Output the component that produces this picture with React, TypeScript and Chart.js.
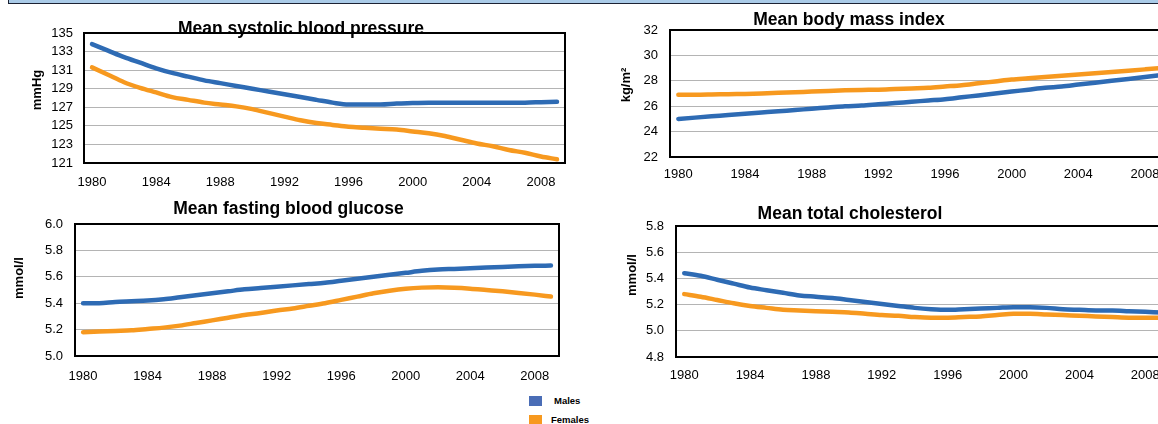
import React, { useEffect, useRef } from "react";
import { Chart, registerables } from "chart.js";

Chart.register(...registerables);

const years = [
  "1980", "1981", "1982", "1983", "1984", "1985", "1986", "1987", "1988", "1989",
  "1990", "1991", "1992", "1993", "1994", "1995", "1996", "1997", "1998", "1999",
  "2000", "2001", "2002", "2003", "2004", "2005", "2006", "2007", "2008", "2009",
];

const sbpMales = [
  133.8, 133.1, 132.4, 131.8, 131.2, 130.7, 130.3, 129.9, 129.6, 129.3,
  129.0, 128.7, 128.4, 128.1, 127.8, 127.5, 127.3, 127.3, 127.3, 127.4,
  127.45, 127.5, 127.5, 127.5, 127.5, 127.5, 127.5, 127.5, 127.55, 127.6,
];
const sbpFemales = [
  131.3, 130.5, 129.7, 129.1, 128.6, 128.1, 127.8, 127.5, 127.3, 127.1,
  126.8, 126.4, 126.0, 125.6, 125.3, 125.1, 124.9, 124.8, 124.7, 124.6,
  124.4, 124.2, 123.9, 123.5, 123.1, 122.8, 122.4, 122.1, 121.7, 121.4,
];

const bmiMales = [
  25.0, 25.1, 25.2, 25.3, 25.4, 25.5, 25.6, 25.7, 25.8, 25.9,
  26.0, 26.05, 26.15, 26.25, 26.35, 26.45, 26.55, 26.7, 26.85, 27.0,
  27.15, 27.3, 27.45, 27.55, 27.7, 27.85, 28.0, 28.15, 28.3, 28.45,
];
const bmiFemales = [
  26.9, 26.9, 26.92, 26.95, 26.97, 27.0, 27.05, 27.1, 27.15, 27.2,
  27.25, 27.28, 27.3, 27.35, 27.4, 27.45, 27.55, 27.65, 27.8, 27.95,
  28.1, 28.2, 28.3, 28.4, 28.5, 28.6, 28.7, 28.8, 28.9, 29.0,
];

const glucoseMales = [
  5.4, 5.4, 5.41, 5.415, 5.42, 5.43, 5.445, 5.46, 5.475, 5.49,
  5.505, 5.515, 5.525, 5.535, 5.545, 5.555, 5.57, 5.585, 5.6, 5.615,
  5.63, 5.645, 5.655, 5.66, 5.665, 5.67, 5.675, 5.68, 5.683, 5.685,
];
const glucoseFemales = [
  5.18, 5.185, 5.19, 5.195, 5.205, 5.215, 5.23, 5.25, 5.27, 5.29,
  5.31, 5.325, 5.345, 5.36, 5.38, 5.4, 5.425, 5.45, 5.475, 5.495,
  5.51, 5.518, 5.52, 5.517, 5.51, 5.5, 5.49, 5.478, 5.465, 5.45,
];

const cholMales = [
  5.44, 5.42, 5.39, 5.36, 5.33, 5.31, 5.29, 5.27, 5.26, 5.25,
  5.235, 5.22, 5.205, 5.19, 5.175, 5.165, 5.16, 5.165, 5.17, 5.175,
  5.18, 5.18, 5.175, 5.165, 5.16, 5.155, 5.155, 5.15, 5.145, 5.14,
];
const cholFemales = [
  5.28, 5.26, 5.235, 5.21, 5.19, 5.175, 5.16, 5.155, 5.15, 5.145,
  5.14, 5.13, 5.12, 5.115, 5.105, 5.1, 5.1, 5.105, 5.11, 5.12,
  5.13, 5.13, 5.125, 5.12, 5.115, 5.11, 5.105, 5.1, 5.1, 5.1,
];

const seriesNames = ["Males", "Females"];
const seriesColors = ["#2e6bb4", "#f7991f"];
const legendColors = ["#4a6db6", "#f7991f"];

const FONT = "'Liberation Sans', Arial, Helvetica, sans-serif";

type Panel = {
  title: string;
  yTitle: string;
  males: number[];
  females: number[];
  min: number;
  max: number;
  step: number;
  decimals: number;
  left: number;
  top: number;
  width: number;
  height: number;
  padLeft: number;
  axisW: number;
  padRight: number;
  yTitleX: number;
  yTitleY: number;
  titlePadTop: number;
  titlePadBottom: number;
  yTickPad: number;
  xTickPad: number;
};

const panels: Panel[] = [
  {
    title: "Mean systolic blood pressure", yTitle: "mmHg",
    males: sbpMales, females: sbpFemales, min: 121, max: 135, step: 2, decimals: 0,
    left: 0, top: 0, width: 600, height: 193, padLeft: 37, axisW: 47, padRight: 35,
    yTitleX: 37, yTitleY: 90, titlePadTop: 19, titlePadBottom: -7, yTickPad: 11, xTickPad: 12,
  },
  {
    title: "Mean body mass index", yTitle: "kg/m\u00b2",
    males: bmiMales, females: bmiFemales, min: 22, max: 32, step: 2, decimals: 0,
    left: 520, top: 0, width: 658, height: 187, padLeft: 8, axisW: 142, padRight: 8,
    yTitleX: 106.5, yTitleY: 85, titlePadTop: 9.5, titlePadBottom: -0.5, yTickPad: 12, xTickPad: 10,
  },
  {
    title: "Mean fasting blood glucose", yTitle: "mmol/l",
    males: glucoseMales, females: glucoseFemales, min: 5.0, max: 6.0, step: 0.2, decimals: 1,
    left: 0, top: 190, width: 578, height: 196, padLeft: 18, axisW: 57, padRight: 19,
    yTitleX: 19, yTitleY: 88, titlePadTop: 9, titlePadBottom: 4, yTickPad: 12, xTickPad: 13,
  },
  {
    title: "Mean total cholesterol", yTitle: "mmol/l",
    males: cholMales, females: cholFemales, min: 4.8, max: 5.8, step: 0.2, decimals: 1,
    left: 520, top: 190, width: 658, height: 197, padLeft: 10, axisW: 146, padRight: 8,
    yTitleX: 112.5, yTitleY: 85, titlePadTop: 13.5, titlePadBottom: 1.5, yTickPad: 12, xTickPad: 11,
  },
];

const framePlugin = {
  id: "frame",
  beforeDatasetsDraw(chart: any) {
    const { ctx, chartArea } = chart;
    ctx.save();
    ctx.strokeStyle = "#000";
    ctx.lineWidth = 2;
    ctx.strokeRect(chartArea.left, chartArea.top, chartArea.right - chartArea.left, chartArea.bottom - chartArea.top);
    ctx.restore();
  },
};

function makeYTitlePlugin(p: Panel) {
  return {
    id: "yTitleText",
    afterDraw(chart: any) {
      const { ctx } = chart;
      ctx.save();
      ctx.translate(p.yTitleX, p.yTitleY);
      ctx.rotate(-Math.PI / 2);
      ctx.fillStyle = "#000";
      ctx.font = `bold 13px ${FONT}`;
      ctx.textAlign = "center";
      ctx.textBaseline = "middle";
      ctx.fillText(p.yTitle, 0, 0);
      ctx.restore();
    },
  };
}

function PanelChart({ p }: { p: Panel }) {
  const ref = useRef<HTMLCanvasElement | null>(null);
  useEffect(() => {
    if (!ref.current) return;
    const chart = new Chart(ref.current, {
      type: "line",
      data: {
        labels: years,
        datasets: [
          {
            label: seriesNames[0], data: p.males, borderColor: seriesColors[0],
            borderWidth: 4.5, pointRadius: 0, cubicInterpolationMode: "monotone",
            borderCapStyle: "round", borderJoinStyle: "round", fill: false,
          },
          {
            label: seriesNames[1], data: p.females, borderColor: seriesColors[1],
            borderWidth: 4.5, pointRadius: 0, cubicInterpolationMode: "monotone",
            borderCapStyle: "round", borderJoinStyle: "round", fill: false,
          },
        ],
      },
      options: {
        responsive: false,
        animation: false,
        devicePixelRatio: 1,
        layout: { padding: { left: p.padLeft, right: p.padRight, top: 0, bottom: 0 } },
        plugins: {
          legend: { display: false },
          tooltip: { enabled: false },
          title: {
            display: true, text: p.title, color: "#000",
            font: { family: FONT, size: 17.5, weight: "bold" },
            padding: { top: p.titlePadTop, bottom: p.titlePadBottom },
          },
        },
        scales: {
          x: {
            type: "category", offset: true,
            grid: { display: false, drawTicks: false },
            border: { display: false },
            ticks: {
              autoSkip: false, maxRotation: 0, minRotation: 0, padding: p.xTickPad, color: "#000",
              font: { family: FONT, size: 13 },
              callback: function (this: any, v: any, i: number) {
                return i % 4 === 0 ? this.getLabelForValue(v) : null;
              },
            },
            afterFit: (s: any) => { s.height = 30; },
          },
          y: {
            min: p.min, max: p.max,
            grid: { color: "#b4b4b4", lineWidth: 1, drawTicks: false },
            border: { display: false },
            ticks: {
              autoSkip: false, stepSize: p.step, padding: p.yTickPad, color: "#000",
              font: { family: FONT, size: 13 },
              callback: (v: any) => Number(v).toFixed(p.decimals),
            },
            afterFit: (s: any) => { s.width = p.axisW; },
          },
        },
      } as any,
      plugins: [framePlugin, makeYTitlePlugin(p)],
    });
    return () => chart.destroy();
  }, [p]);
  return (
    <canvas
      ref={ref}
      width={p.width}
      height={p.height}
      style={{ position: "absolute", left: p.left, top: p.top, width: p.width, height: p.height }}
    />
  );
}

export default function App() {
  return (
    <div
      style={{
        position: "fixed", left: 0, top: 0, width: 1158, height: 424,
        overflow: "hidden", background: "#fff", fontFamily: FONT,
      }}
    >
      <div
        style={{
          position: "absolute", left: 8, top: -20, width: 1200, height: 22,
          background: "#aacbe8", border: "1px solid #1c2233", boxSizing: "content-box",
        }}
      />
      {panels.map((p, i) => (
        <PanelChart key={i} p={p} />
      ))}
      {seriesNames.map((name, i) => (
        <div key={name} style={{ position: "absolute", left: 529, top: 396 + i * 19, height: 11 }}>
          <div
            style={{
              position: "absolute", left: 0, top: 0, width: 13, height: 10,
              background: legendColors[i],
            }}
          />
          <div
            style={{
              position: "absolute", left: i === 0 ? 25 : 22, top: -1, fontSize: 9.5,
              fontWeight: "bold", color: "#000", whiteSpace: "nowrap", lineHeight: "12px",
            }}
          >
            {name}
          </div>
        </div>
      ))}
    </div>
  );
}
